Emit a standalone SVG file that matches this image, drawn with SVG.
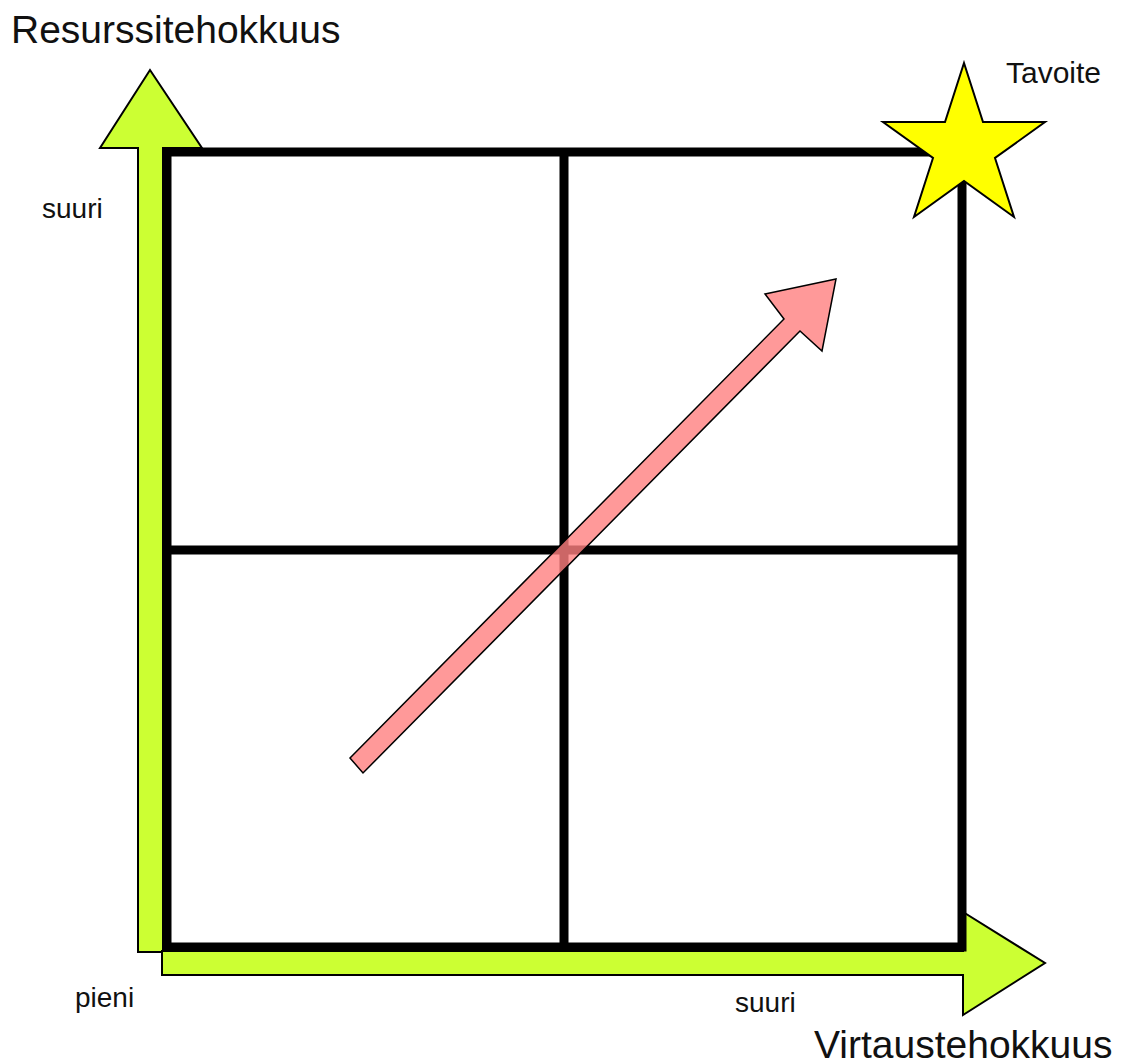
<svg xmlns="http://www.w3.org/2000/svg" width="1127" height="1064" viewBox="0 0 1127 1064">
  <style>
    .axis { fill: #ccff33; stroke: #000; stroke-width: 2; stroke-linejoin: miter; }
    .grid { fill: none; stroke: #000; stroke-width: 9; }
    .big { font-family: "Liberation Sans", Arial, sans-serif; font-size: 39px; fill: #111; }
    .small { font-family: "Liberation Sans", Arial, sans-serif; font-size: 28px; fill: #111; }
  </style>
  <rect width="1127" height="1064" fill="#fff"/>
  <g id="y-axis">
    <polygon class="axis" points="138,952 138,148 100,148 150,70 202,148 163,148 163,952"/>
  </g>
  <g id="x-axis">
    <polygon class="axis" points="162,951 963,951 963,912 1045,963 963,1015 963,975 162,975"/>
  </g>
  <g id="grid">
    <rect x="167" y="152" width="795" height="795" fill="#fff" stroke="none"/>
    <line class="grid" x1="564" y1="152" x2="564" y2="947"/>
    <line class="grid" x1="167" y1="550" x2="962" y2="550"/>
    <rect class="grid" x="167" y="152" width="795" height="795"/>
  </g>
  <g id="connectors">
    <polygon points="350,758 784,319 765,294 836,279 822,351 800,331 363,773" fill="#ff8080" fill-opacity="0.8" stroke="#000" stroke-width="1.5" stroke-linejoin="miter"/>
  </g>
  <g id="star">
    <polygon points="964,63 983,122 1045,122 995,158 1014,217 964,181 914,217 933,158 883,122 945,122" fill="#ffff00" stroke="#000" stroke-width="2"/>
  </g>
  <g id="labels">
    <text class="big" x="11" y="43">Resurssitehokkuus</text>
    <text class="big" x="814" y="1058">Virtaustehokkuus</text>
    <text class="small" x="1006" y="83" style="font-size:30px">Tavoite</text>
    <text class="small" x="42" y="218">suuri</text>
    <text class="small" x="75" y="1007">pieni</text>
    <text class="small" x="735" y="1012">suuri</text>
  </g>
</svg>
